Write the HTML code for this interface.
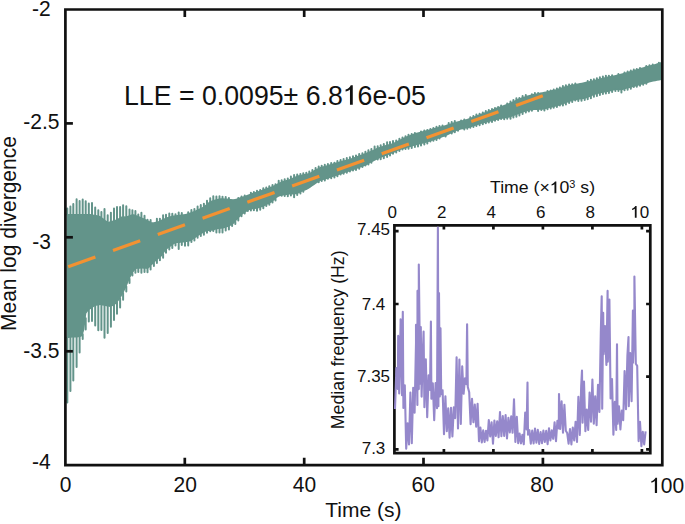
<!DOCTYPE html>
<html><head><meta charset="utf-8"><style>
html,body{margin:0;padding:0;background:#fff;width:685px;height:524px;overflow:hidden}
svg{display:block}
text{font-family:'Liberation Sans',sans-serif;fill:#111}
</style></head><body>
<svg width="685" height="524" viewBox="0 0 685 524">
<rect width="685" height="524" fill="#fff"/>
<polygon points="66.5,214 68.5,214 70.5,214 72.4,214 74.4,214 76.4,214 78.4,214 80.4,214 82.4,214 84.3,214 86.3,214 88.3,214 90.3,214.1 92.3,214.4 94.3,214.8 96.2,215.1 98.2,215.5 100.2,216 102.2,217.5 104.2,219 106.1,220.5 108.1,221.9 110.1,221.3 112.1,220.8 114.1,220.3 116.1,219.4 118,218.4 120,217.4 122,216.3 124,216.2 126,216.5 128,215.8 129.9,215.1 131.9,214.3 133.9,214.2 135.9,215 137.9,215.8 139.8,216.6 141.8,217.4 143.8,218.3 145.8,219.3 147.8,220.2 149.8,221.2 151.7,222.2 153.7,222.2 155.7,221.8 157.7,221.5 159.7,220.6 161.7,219.6 163.6,218.6 165.6,217.9 167.6,217.1 169.6,216.4 171.6,215.8 173.5,215.5 175.5,215.2 177.5,215 179.5,214.7 181.5,214.5 183.5,214.3 185.4,214 187.4,213.6 189.4,212.8 191.4,212 193.4,211.2 195.4,210.4 197.3,209.5 199.3,208.6 201.3,207.8 203.3,206.5 205.3,204.9 207.2,203.4 209.2,201.8 211.2,200.8 213.2,200.1 215.2,199.6 217.2,199 219.1,198.6 221.1,198.2 223.1,198.3 225.1,198.4 227.1,198.6 229.1,198.9 231,199 233,199.2 235,199 237,198.6 239,197.7 240.9,197 242.9,196.4 244.9,195.7 246.9,194.9 248.9,194.2 250.9,193.5 252.8,192.8 254.8,192.2 256.8,191.6 258.8,191 260.8,190.3 262.8,189.5 264.7,188.8 266.7,188.2 268.7,187.5 270.7,186.7 272.7,185.9 274.6,185 276.6,183.9 278.6,182.7 280.6,181.9 282.6,181.1 284.6,180.6 286.5,180.1 288.5,179.4 290.5,178.7 292.5,177.7 294.5,176.8 296.5,175.9 298.4,175.3 300.4,175 302.4,174.6 304.4,174.1 306.4,173.7 308.3,173.3 310.3,172.4 312.3,171.2 314.3,170.1 316.3,169.1 318.3,168.1 320.2,167.1 322.2,166.5 324.2,165.9 326.2,165.4 328.2,164.8 330.2,164.2 332.1,163.7 334.1,163.1 336.1,162.5 338.1,161.9 340.1,161.3 342,160.7 344,160.2 346,159.7 348,159.2 350,158.7 352,158 353.9,157.3 355.9,156.6 357.9,155.8 359.9,155.1 361.9,154.4 363.9,153.6 365.8,152.9 367.8,152.1 369.8,151.2 371.8,150.4 373.8,149.6 375.7,148.5 377.7,147.5 379.7,146.9 381.7,146.2 383.7,145.7 385.7,145.1 387.6,144.5 389.6,144 391.6,143.4 393.6,142.7 395.6,141.7 397.5,140.7 399.5,139.7 401.5,138.7 403.5,137.7 405.5,136.8 407.5,135.9 409.4,135.2 411.4,134.5 413.4,133.7 415.4,133 417.4,132.5 419.4,132 421.3,131.5 423.3,131 425.3,130.5 427.3,130 429.3,129.4 431.2,128.9 433.2,128.3 435.2,127.8 437.2,127.2 439.2,126.7 441.2,126.2 443.1,125.7 445.1,125.2 447.1,124.6 449.1,123.9 451.1,123.2 453.1,122.5 455,122 457,121.4 459,121 461,120.6 463,120.1 464.9,119.5 466.9,118.9 468.9,118.3 470.9,117.6 472.9,116.8 474.9,116 476.8,115.3 478.8,114.6 480.8,113.8 482.8,113.1 484.8,112.3 486.8,111.6 488.7,110.8 490.7,110.1 492.7,109.2 494.7,108.3 496.7,107.6 498.6,106.9 500.6,106.3 502.6,105.6 504.6,104.8 506.6,104.1 508.6,103.3 510.5,102.6 512.5,101.6 514.5,100.5 516.5,99.5 518.5,98.6 520.5,97.9 522.4,97.1 524.4,96.4 526.4,95.8 528.4,95.3 530.4,94.8 532.3,94.3 534.3,93.8 536.3,93.4 538.3,93 540.3,92.6 542.3,92.2 544.2,91.8 546.2,91.4 548.2,91 550.2,90.6 552.2,90.1 554.2,89.7 556.1,89.3 558.1,88.6 560.1,87.9 562.1,87.3 564.1,86.6 566,86.1 568,85.6 570,85 572,84.6 574,84.2 576,83.8 577.9,83.5 579.9,83.1 581.9,82.7 583.9,82.2 585.9,81.8 587.9,81.4 589.8,80.9 591.8,80.5 593.8,80 595.8,79.5 597.8,79 599.7,78.5 601.7,78 603.7,77.4 605.7,77 607.7,76.6 609.7,76.2 611.6,75.8 613.6,75.4 615.6,74.9 617.6,74.4 619.6,74 621.6,73.5 623.5,72.9 625.5,72.4 627.5,71.9 629.5,71.3 631.5,70.7 633.4,70.2 635.4,69.6 637.4,69 639.4,68.4 641.4,67.8 643.4,67.2 645.3,66.6 647.3,66.1 649.3,65.5 651.3,65 653.3,64.5 655.3,63.9 657.2,63.3 659.2,62.7 661.2,62.1 661.2,80 659.2,80.4 657.2,80.8 655.3,81.2 653.3,81.6 651.3,82.1 649.3,82.6 647.3,83.2 645.3,83.7 643.4,84.3 641.4,84.8 639.4,85.3 637.4,85.9 635.4,86.4 633.4,86.9 631.5,87.4 629.5,87.9 627.5,88.5 625.5,89.1 623.5,89.7 621.6,90.2 619.6,90.2 617.6,90.1 615.6,90 613.6,90.5 611.6,91 609.7,91.5 607.7,91.9 605.7,92.3 603.7,92.7 601.7,93.1 599.7,93.5 597.8,94 595.8,94.5 593.8,95.3 591.8,96.1 589.8,97 587.9,97.8 585.9,98.6 583.9,98.9 581.9,99.2 579.9,99.5 577.9,99.8 576,100.2 574,100.6 572,101 570,101.7 568,102.4 566,103.1 564.1,103.9 562.1,104.6 560.1,105.2 558.1,105.9 556.1,106.6 554.2,107 552.2,107.4 550.2,107.8 548.2,108.2 546.2,109 544.2,109.6 542.3,109.7 540.3,109.8 538.3,109.9 536.3,109.9 534.3,110 532.3,110.2 530.4,110.6 528.4,111.1 526.4,111.5 524.4,112.1 522.4,112.8 520.5,113.6 518.5,114.3 516.5,115.1 514.5,115.8 512.5,116.6 510.5,117.3 508.6,117.7 506.6,118.1 504.6,118.4 502.6,118.8 500.6,119.1 498.6,119.5 496.7,119.9 494.7,120.4 492.7,121 490.7,121.5 488.7,122 486.8,122.5 484.8,123 482.8,123.6 480.8,124.1 478.8,124.7 476.8,125.3 474.9,125.9 472.9,126.6 470.9,127.2 468.9,127.9 466.9,128.3 464.9,128.8 463,129.2 461,129.6 459,130.2 457,130.8 455,131.7 453.1,132.6 451.1,133.6 449.1,134.6 447.1,135.6 445.1,136.5 443.1,137.1 441.2,137.8 439.2,138.4 437.2,139.1 435.2,139.8 433.2,140.4 431.2,141.1 429.3,141.7 427.3,142.3 425.3,142.9 423.3,143.5 421.3,144 419.4,144.5 417.4,145 415.4,145.5 413.4,146.1 411.4,146.7 409.4,147.2 407.5,147.8 405.5,148.4 403.5,148.9 401.5,149.5 399.5,150.2 397.5,151.1 395.6,152 393.6,152.9 391.6,153.8 389.6,154.6 387.6,155.3 385.7,156 383.7,156.7 381.7,157.4 379.7,158.3 377.7,159.3 375.7,160.3 373.8,161.2 371.8,162.3 369.8,163.3 367.8,164.4 365.8,165.4 363.9,166.2 361.9,167 359.9,167.8 357.9,168.6 355.9,169.3 353.9,170 352,170.6 350,171.3 348,171.9 346,172.6 344,173.3 342,173.9 340.1,174.6 338.1,175.2 336.1,175.9 334.1,176.6 332.1,177.2 330.2,177.9 328.2,178.6 326.2,179.2 324.2,179.7 322.2,180.3 320.2,180.9 318.3,182.2 316.3,183.6 314.3,184.9 312.3,186.2 310.3,187.7 308.3,188.9 306.4,189.9 304.4,190.8 302.4,191.5 300.4,192.4 298.4,193.4 296.5,194 294.5,194.5 292.5,194.5 290.5,194.3 288.5,194.7 286.5,195.1 284.6,195.3 282.6,195.5 280.6,196.1 278.6,196.7 276.6,198.1 274.6,200 272.7,201.6 270.7,203 268.7,204 266.7,205 264.7,206 262.8,206.9 260.8,207.6 258.8,208.2 256.8,208.7 254.8,209 252.8,209.2 250.9,209.6 248.9,210.3 246.9,211.4 244.9,212.7 242.9,214.2 240.9,215.9 239,217.9 237,220.1 235,222.2 233,224.4 231,225.4 229.1,226.4 227.1,227.3 225.1,228.1 223.1,228.5 221.1,228.8 219.1,229 217.2,229.2 215.2,229.8 213.2,230.5 211.2,230.8 209.2,231 207.2,231.3 205.3,231.7 203.3,232.9 201.3,234 199.3,235.2 197.3,236.5 195.4,237.9 193.4,239.3 191.4,240.7 189.4,241.6 187.4,241.9 185.4,242.1 183.5,242.4 181.5,242.6 179.5,242.9 177.5,243.1 175.5,243.3 173.5,244.5 171.6,245.9 169.6,247.3 167.6,248.8 165.6,250.6 163.6,253.5 161.7,256.3 159.7,257.9 157.7,259.5 155.7,261.3 153.7,263.3 151.7,265.3 149.8,267.2 147.8,269 145.8,268.8 143.8,268.7 141.8,268.5 139.8,268.7 137.9,268.8 135.9,269 133.9,271.4 131.9,274.7 129.9,278.2 128,282.9 126,287.7 124,291.8 122,295.4 120,299 118,301.4 116.1,303.7 114.1,305.4 112.1,306.2 110.1,307 108.1,306.6 106.1,306.2 104.2,305.8 102.2,305.4 100.2,305 98.2,305.4 96.2,305.8 94.3,306.5 92.3,307.9 90.3,309.3 88.3,310.7 86.3,313.6 84.3,329.8 82.4,335.9 80.4,337.1 78.4,337.2 76.4,337.4 74.4,337.5 72.4,337.6 70.5,337.7 68.5,337.9 66.5,338" fill="#63948a"/>
<path d="M67.3 214.5V208.5M67.3 337.4V402.5M70.4 214.5V206.5M70.4 337.3V391M73.3 214.5V203.9M73.3 337.1V380.6M76.6 214.5V199.2M76.6 336.9V366.9M79.6 214.5V201.1M79.6 336.7V352.6M82.7 214.5V199.5M82.7 334.2V339.1M85.7 214.5V201.3M85.7 318.3V329.4M88.8 214.5V203.6M88.8 309.9V321.4M92 214.9V203M92 307.6V321M95.2 215.4V207.6M95.2 305.5V325.6M98.3 216V210.2M98.3 304.8V330.2M101.4 217.4V212M101.4 304.8V330.1M104.5 219.8V209M104.5 305.4V337.8M107.7 222.2V215.2M107.7 306V333M110.9 221.6V212.8M110.9 306.2V326.7M114 220.8V208.6M114 304.9V320M117 219.4V207M117 302.1V313.8M120.1 217.8V207M120.1 298.4V307.6M123.1 216.3V205.2M123.1 292.9V299.8M126.3 216.9V206.3M126.3 286.5V291.6M129.5 215.7V209.4M129.5 278.8V282.9M132.4 214.6V210.2M132.4 273.4V275.4M135.4 215.3V211.1M135.4 268.5V272.8M138.3 216.5V214.4M138.3 268.3V272.1M141.4 217.7V212.7M141.4 268V272.7M144.5 219.1V215.7M144.5 268.2V271.9M147.5 220.6V219.7M147.5 268.5V272.2M150.6 222.1V220M150.6 265.9V269.4M153.9 262.6V266.1M156.9 222.2V218.8M156.9 259.6V263M159.9 221V218.8M159.9 257.2V260.2M163.1 219.4V215.2M163.1 253.9V257.8M166 218.2V214.7M166 249.5V252.8M169.3 217V213.4M169.3 247V249.6M172.3 216.2V213.8M172.3 244.8V248M175.5 215.8V214.2M175.5 242.9V245.4M178.7 215.3V212.4M178.7 242.5V248.9M181.8 215V212.9M181.8 242.1V244.9M185 241.7V245.7M188.2 213.8V212.2M188.2 241.3V245.5M191.4 212.5V209.9M191.4 240.2V241.9M194.4 211.3V209M194.4 238V240.5M197.6 209.9V206.5M197.6 235.8V237.8M200.8 208.5V205.1M200.8 233.8V236M203.9 206.5V203.8M203.9 232V234.8M207 204.1V200.8M207 230.8V232.8M210.2 201.8V198.3M210.2 230.4V231.3M213.3 200.6V196.2M213.3 230V230.9M216.4 199.8V196.5M216.4 228.9V232.6M219.5 199V196.3M219.5 228.5V232.6M222.5 198.7V196.7M222.5 228.1V232.4M225.7 199V197.1M225.7 227.4V230.6M228.9 199.4V197.9M228.9 226V229.4M232.1 224.4V226.1M235.3 221.4V223.9M238.3 198.5V198M238.3 218.2V220.5M241.5 197.4V196.5M241.5 214.9V216.3M244.7 196.3V195.6M244.7 212.3V213.5M247.8 210.3V211.1M250.9 194V192.7M250.9 209.1V210.6M253.9 193V192M253.9 208.6V210.2M257 192.1V190.7M257 208.1V210.7M260.2 191V190.1M260.2 207.3V209.8M263.3 189.8V188.2M263.3 206.2V208.3M266.3 188.8V187.4M266.3 204.7V205.9M269.3 187.7V186.3M269.3 203.3V204.8M272.5 186.5V185.1M272.5 201.2V202.5M275.5 185.1V184.2M275.5 198.8V200.6M278.7 183.2V180.8M281.7 181.9V180.2M281.7 195.3V195.8M284.7 181V179.3M284.7 194.8V196M287.8 180.2V178.6M287.8 194.3V196.3M290.9 179V176.4M290.9 193.8V195.6M294.1 177.4V174.9M294.1 194.1V197.2M297.2 176.1V174.4M297.2 193.3V195.1M300.4 175.5V173.9M300.4 191.9V193.4M303.3 174.9V173.2M303.3 190.7V191.7M306.3 174.2V172.8M309.3 173.5V171.5M312.4 171.6V170.1M315.6 169.9V168M318.7 168.4V166.4M318.7 181.4V182.2M321.7 167.2V165.7M321.7 180V180.9M324.8 166.3V164.7M324.8 179.1V180.5M327.9 165.4V163.9M327.9 178.1V178.8M331.2 164.4V163M331.2 177.1V178.2M334.4 163.5V162.7M334.4 176V177.4M337.4 162.6V161.1M337.4 175V176.3M340.6 161.7V160M340.6 173.9V174.5M343.6 160.8V159.1M343.6 172.9V173.7M346.8 160V158.1M346.8 171.8V172.7M349.9 159.2V157.3M349.9 170.8V171.5M353 158.2V156.2M353 169.8V170.5M356 157.1V155.5M356 168.8V169.9M359.2 155.9V154.1M359.2 167.6V168.8M362.4 154.7V153.2M362.4 166.3V167.1M365.4 153.5V151.7M365.4 165.1V165.6M368.4 152.3V150.3M368.4 163.6V164.4M371.4 151V148.9M371.4 162V162.8M374.6 149.6V146.6M377.7 148V146.2M377.7 158.8V159.5M380.7 147V145.2M380.7 157.4V159.2M383.8 146.1V144.1M383.8 156.2V158.3M387.1 145.2V142.3M387.1 155V157M390 144.4V142.1M390 153.9V155.5M393 143.5V141.1M393 152.7V153.8M396.2 141.9V140.6M396.2 151.2V152.4M399.4 140.3V138.8M399.4 149.8V150.9M402.5 138.7V137.5M402.5 148.7V149.6M405.5 137.3V136.3M405.5 147.9V149M408.5 136V134.7M408.5 147V148.8M411.7 134.8V134.1M411.7 146.1V148M414.9 133.7V132.9M414.9 145.2V146.9M418 144.3V146.4M421 132.1V131.5M421 143.6V145.5M424.3 131.2V130.6M424.3 142.7V144.4M427.3 130.4V129.9M427.3 141.8V143.5M430.4 129.7V128.9M430.4 140.8V141.4M433.4 128.8V128M433.4 139.8V140.8M436.5 127.9V126.7M436.5 138.8V139.9M439.5 127.1V126M439.5 137.8V138.6M442.5 126.3V125.4M445.6 135.8V136.4M448.7 124.5V123.1M451.7 123.5V121.9M451.7 132.8V133.5M454.8 122.5V121.1M454.8 131.3V132.2M458 129.9V130.7M461.1 121.1V120.4M464.3 120.2V119.5M464.3 128.4V129.4M467.3 127.8V128.7M470.3 118.3V117.2M470.3 126.9V127.8M473.4 117.1V116M473.4 125.9V127M476.4 116V114.5M476.4 124.9V125.9M479.6 114.8V113.7M479.6 124V125.3M482.8 113.6V112.4M482.8 123.1V124.3M485.8 112.4V111M485.8 122.3V123.3M488.8 111.3V110M488.8 121.5V122.6M492 110.1V109M492 120.7V122.1M495 108.6V107.9M495 119.8V120.8M498.1 107.6V107M498.1 119.1V120.1M501.1 106.6V105.4M501.1 118.5V119.1M504.2 118V119.2M507.2 104.3V103.6M507.2 117.5V118.7M510.5 103.1V101.6M510.5 116.9V118.8M513.4 101.6V100.1M513.4 115.7V117.4M516.4 100.1V98.3M516.4 114.6V116.7M519.4 98.8V97.9M519.4 113.5V115.5M522.6 97.6V96M522.6 112.3V114M525.8 96.4V95M525.8 111.1V112.6M528.9 110.4V111.5M531.9 94.9V94.2M531.9 109.8V110.8M534.9 94.2V93.1M538.1 93.6V92.9M538.1 109.4V110.9M541.3 109.2V110M544.4 109.1V110.4M547.5 91.6V90.9M547.5 108V109.2M550.7 91V90.4M550.7 107.2V108.5M553.7 90.3V89.4M553.7 106.6V107.7M556.9 89.5V88.5M556.9 105.8V107.1M559.9 88.5V87.5M559.9 104.8V105.4M562.9 87.5V86M562.9 103.8V105.5M565.9 86.6V85.3M565.9 102.7V104.6M569.1 85.8V84.6M569.1 101.5V103.1M572.2 85V84.3M572.2 100.5V102.1M575.3 84.5V83.5M575.3 99.9V100.6M578.3 99.2V101M581.5 98.8V100.7M584.7 98.3V100.1M587.7 81.9V81M587.7 97.4V99.2M590.9 81.2V79.7M590.9 96V98.3M593.9 80.5V79.2M593.9 94.8V96.8M596.9 79.8V78.2M596.9 93.7V96.1M599.9 79V77.3M599.9 93V94.9M602.9 78.1V76.5M602.9 92.4V94.1M605.9 77.5V75.8M605.9 91.8V93.5M608.9 76.9V75.7M608.9 91.2V93M612.1 76.2V75.3M612.1 90.3V92M615.4 89.6V91M618.4 74.8V74M618.4 89.6V91.1M621.4 89.8V92.4M624.5 73.2V72.5M624.5 88.9V90.3M627.6 72.4V71.5M627.6 88V89.7M630.8 71.4V70.4M630.8 87.1V88.8M633.8 70.5V69.4M633.8 86.3V86.9M636.8 69.7V69M636.8 85.5V86.8M640 68.7V67.9M640 84.7V85.7M643.2 83.8V84.7M646.3 66.8V66.1M646.3 83V83.8M649.5 66V65.2M652.7 65.1V64.6M658.9 63.3V62.7" stroke="#63948a" stroke-width="2.0" stroke-linecap="round" fill="none"/>
<line x1="68.2" y1="266.7" x2="542.8" y2="95.8" stroke="#f39232" stroke-width="3.2" stroke-dasharray="28.9 18.7" stroke-linecap="butt"/>

<g stroke="#111" stroke-width="2.7" fill="none">
<path d="M65.4 9.5H662.3V465.2H65.4Z" stroke-linejoin="miter"/>
<path d="M184.8 465.2v-7.5M184.8 9.5v7.5"/>
<path d="M304.2 465.2v-7.5M304.2 9.5v7.5"/>
<path d="M423.5 465.2v-7.5M423.5 9.5v7.5"/>
<path d="M542.9 465.2v-7.5M542.9 9.5v7.5"/>
<path d="M65.4 123.4h7.5"/>
<path d="M65.4 237.3h7.5"/>
<path d="M65.4 351.3h7.5"/>
</g>
<g style="font-size:21px">
<text transform="translate(41.4,15.5) scale(1,1.07)" text-anchor="middle">-2</text>
<text transform="translate(41.3,128.6) scale(1,1.07)" text-anchor="middle">-2.5</text>
<text transform="translate(41.6,248.6) scale(1,1.07)" text-anchor="middle">-3</text>
<text transform="translate(41.3,357.6) scale(1,1.07)" text-anchor="middle">-3.5</text>
<text transform="translate(41.3,469.4) scale(1,1.07)" text-anchor="middle">-4</text>
<text transform="translate(65.7,492.1) scale(1,1.07)" text-anchor="middle">0</text>
<text transform="translate(185.25,491.6) scale(1,1.07)" text-anchor="middle">20</text>
<text transform="translate(304.5,491.7) scale(1,1.07)" text-anchor="middle">40</text>
<text transform="translate(423.2,491.6) scale(1,1.07)" text-anchor="middle">60</text>
<text transform="translate(541.95,491.6) scale(1,1.07)" text-anchor="middle">80</text>
<text transform="translate(666.7,493.1) scale(1,1.07)" text-anchor="middle"> 00</text>
<path transform="translate(666.7,493.1) scale(1,1.07)" d="M -11.84,0.00 H -9.63 V -14.45 H -11.21 C -11.84,-13.02 -13.52,-11.76 -15.30,-11.24 V -9.70 C -13.94,-9.97 -12.68,-10.50 -11.84,-11.24 Z" fill="#111"/>
<text x="363.4" y="517" text-anchor="middle">Time (s)</text>
<text transform="translate(16.3,233.6) rotate(-90) scale(1,1.07)" text-anchor="middle">Mean log divergence</text>
</g>
<text transform="translate(124,104.7) scale(1,1.065)" style="font-size:26.7px">LLE = 0.0095± 6.8 6e-05</text>
<path transform="translate(124,104.7) scale(1,1.065)" d="M 225.97,0.00 H 228.78 V -18.37 H 226.77 C 225.97,-16.55 223.84,-14.95 221.57,-14.28 V -12.34 C 223.30,-12.68 224.90,-13.35 225.97,-14.28 Z" fill="#111"/>
<g stroke="#111" stroke-width="2.7" fill="none">
<path d="M394.4 225.4H650.3V453.2H394.4Z"/>
<path d="M443.9 453.2v-4.2M443.9 225.4v4.2"/>
<path d="M493.4 453.2v-4.2M493.4 225.4v4.2"/>
<path d="M542.9 453.2v-4.2M542.9 225.4v4.2"/>
<path d="M592.4 453.2v-4.2M592.4 225.4v4.2"/>
<path d="M641.9 225.4v4.2M641.9 453.2v-4.2"/>
<path d="M394.4 231.2h4.2M650.3 231.2h-4.2"/>
<path d="M394.4 304h4.2M650.3 304h-4.2"/>
<path d="M394.4 376.7h4.2M650.3 376.7h-4.2"/>
<path d="M394.4 449.4h4.2M650.3 449.4h-4.2"/>
</g>
<path d="M395 409 L396.4 368.1 L397.8 388.9 L398.2 335.9 L399.2 393.5 L400.6 322.8 L400.6 319.4 L402 395.2 L402.8 311.7 L403.4 407.9 L404.8 385.2 L406.2 448.8 L407.6 423.2 L409 444.5 L410.4 392.5 L411.8 443.1 L413.2 387.7 L414.6 412.7 L416 343 L416 324.9 L417.4 405 L417.5 290.9 L418.8 389.1 L418.8 264.5 L420.2 383.7 L420.8 327.1 L421.6 396.6 L423 347.7 L423.6 331.5 L424.4 407.2 L425.8 359.3 L427.2 417.2 L428.6 375.2 L430 389.9 L430.9 321.6 L431.4 398.8 L432.8 383.3 L434.2 420.3 L435.6 383 L437 408.2 L437.9 227.5 L438.4 406.2 L439 293 L439.8 396.4 L440.5 328.2 L441.2 394.1 L442.6 390.3 L444 434.1 L445.4 396.2 L446.8 431.2 L448.2 408.4 L449.6 437.7 L451 407.8 L452.4 436.4 L453.8 407.4 L455.2 418.1 L456.6 357.2 L458 428.5 L459.4 359.5 L460.8 423.9 L462.2 366.3 L463.6 393.8 L465 378.2 L466.4 384.2 L467.1 324.2 L467.8 387 L469.2 392.2 L470.6 424.1 L472 398.9 L473.4 422.3 L474.8 404.6 L476.2 426.6 L477.6 403.7 L479 441.3 L480.4 427.6 L481.8 442.4 L483.2 430.4 L484.6 441.9 L486 430.7 L487.4 440.4 L488.8 420 L490.2 436.4 L491.6 422.2 L493 443.6 L494.4 420.5 L495.8 436 L497.2 421.2 L498.6 437.3 L500 412.1 L501.4 436.2 L502.8 416.1 L504.2 435.9 L505.6 415 L507 438.5 L508.4 417.7 L509.8 432.5 L511.2 416.4 L512.6 432.8 L514 399.2 L515.4 442 L516.8 416.7 L518.2 443.1 L519.6 433.6 L521 443.4 L522.4 434.7 L523.8 444.3 L525.2 412.5 L526.6 429.4 L527.5 382.5 L528 434.8 L529.4 430.2 L530.8 443.6 L532.2 430.5 L533.6 443.4 L535 428.6 L536.4 442.7 L537.8 429.9 L539.2 443.9 L540.6 432 L542 443.2 L543.4 430.6 L544.8 441.9 L546.2 430.9 L547.6 444.2 L549 428.2 L550.4 440.4 L551.8 430.4 L553.2 438.8 L554.6 422.4 L556 441.1 L557.4 420.7 L558.8 428.4 L559 394 L560.2 428.9 L561.6 401.4 L563 432.8 L564.4 404.8 L565.8 430.7 L567.2 433 L568.6 443.7 L570 429 L571.4 444.4 L572.8 427.5 L574.2 440.5 L575.6 421.7 L577 441.9 L578.4 396.8 L579.8 434.9 L581.2 385.8 L582 370.6 L582.6 422.7 L584 381.5 L585.4 431.1 L586.8 409.6 L588.2 429.9 L589.6 392.5 L591 421.7 L592.4 379.5 L593.8 423.6 L595.2 396.3 L596.6 425.2 L598 384.9 L599.4 411.9 L600.8 332.7 L601.7 296.3 L602.2 408.7 L603.2 312.8 L603.6 354.1 L605 326.1 L605 330.4 L606.4 365 L607.6 290.9 L607.8 361.6 L609.2 336.5 L609.4 299.6 L610.6 398.4 L612 379 L613.4 434.6 L614.8 401.9 L616.2 430 L617 344.3 L617.6 423.8 L619 406.2 L620.4 429.4 L621.8 410.5 L623.2 420.1 L624.6 371.1 L626 409.3 L627.4 355.8 L628.5 337 L628.8 406.3 L630.2 353.1 L631.6 401.3 L632.9 310.6 L633 362.8 L634.4 322.3 L634.4 276.6 L635.8 363.7 L637.2 365.9 L638.6 441.1 L640 421.7 L641.4 446.1 L642.8 431.9 L644.2 444.5 L645.6 431.3" stroke="#9588cb" stroke-width="2.1" fill="none" stroke-linejoin="round"/>
<g style="font-size:17px">
<text x="392.2" y="217.8" text-anchor="middle">0</text>
<text x="441.7" y="217.8" text-anchor="middle">2</text>
<text x="491.2" y="217.8" text-anchor="middle">4</text>
<text x="540.7" y="217.8" text-anchor="middle">6</text>
<text x="590.2" y="217.8" text-anchor="middle">8</text>
<text x="639.7" y="217.8" text-anchor="middle"> 0</text>
<path d="M 634.83,217.80 H 636.61 V 206.10 H 635.34 C 634.83,207.26 633.47,208.28 632.02,208.71 V 209.95 C 633.13,209.73 634.15,209.30 634.83,208.71 Z" fill="#111"/>
<text x="373.5" y="235.2" text-anchor="middle">7.45</text>
<text x="373.5" y="309.6" text-anchor="middle">7.4</text>
<text x="373.5" y="382.2" text-anchor="middle">7.35</text>
<text x="373.5" y="454.2" text-anchor="middle">7.3</text>
<text transform="translate(490,193.3) scale(1.04,1)" >Time (× 0<tspan dy="-5.6" style="font-size:10.5px">3</tspan><tspan dy="5.6"> s)</tspan></text>
<path transform="translate(490,193.3) scale(1.04,1)" d="M 61.99,0.00 H 63.78 V -11.70 H 62.50 C 61.99,-10.54 60.63,-9.52 59.19,-9.10 V -7.85 C 60.29,-8.07 61.31,-8.50 61.99,-9.10 Z" fill="#111"/>
<text transform="translate(344.3,339.8) rotate(-90) scale(1.04,1.1)" text-anchor="middle">Median frequency (Hz)</text>
</g>
</svg></body></html>
